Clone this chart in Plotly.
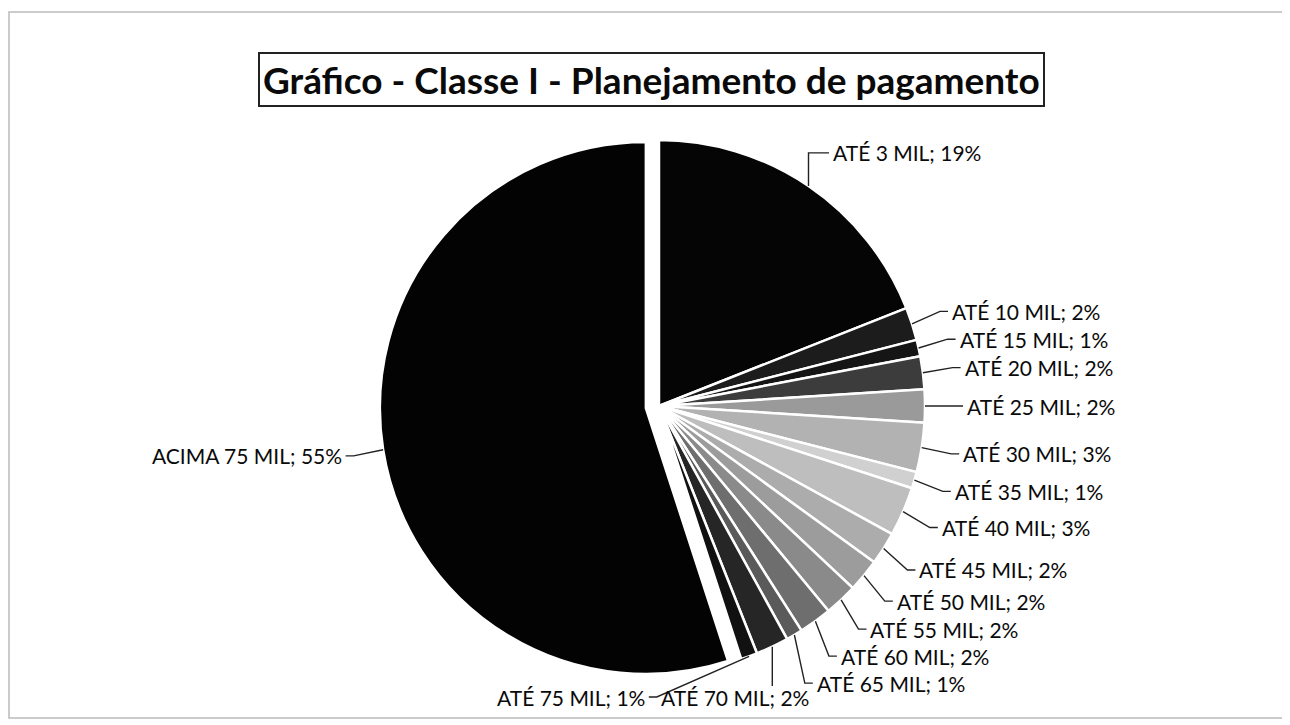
import math
import plotly.graph_objects as go

# Dados do gráfico
categorias = ["ATÉ 3 MIL", "ATÉ 10 MIL", "ATÉ 15 MIL", "ATÉ 20 MIL", "ATÉ 25 MIL",
              "ATÉ 30 MIL", "ATÉ 35 MIL", "ATÉ 40 MIL", "ATÉ 45 MIL", "ATÉ 50 MIL",
              "ATÉ 55 MIL", "ATÉ 60 MIL", "ATÉ 65 MIL", "ATÉ 70 MIL", "ATÉ 75 MIL",
              "ACIMA 75 MIL"]
percentuais = [19, 2, 1, 2, 2, 3, 1, 3, 2, 2, 2, 2, 1, 2, 1, 55]
cores = ["#050505", "#1c1c1c", "#151515", "#3c3c3c", "#9a9a9a", "#b2b2b2",
         "#d0d0d0", "#bebebe", "#acacac", "#9c9c9c", "#8a8a8a", "#6e6e6e",
         "#5a5a5a", "#262626", "#111111", "#030303"]
destaque = [0] * 15 + [0.05]

W, H = 1290, 725
FONT = "Lato"
FS = 21

# geometria da pizza (pixels da figura; a página desloca ~8px)
cx, cy, R = 651, 398, 266
max_pull = max(destaque)
half = R * (1 + max_pull)
dom_y = [1 - (cy + half) / H, 1 - (cy - half) / H]
dom_x = [(cx - half - 20) / W, (cx + half + 20) / W]

fig = go.Figure()

fig.add_trace(go.Pie(
    labels=categorias,
    values=percentuais,
    sort=False,
    direction="clockwise",
    rotation=0,
    pull=destaque,
    marker=dict(colors=cores, line=dict(color="white", width=2.5)),
    textinfo="none",
    hoverinfo="label+percent",
    domain=dict(x=dom_x, y=dom_y),
    showlegend=False,
))


def largura(txt):
    return len(txt) * 0.51 * FS


# posição das bordas das fatias
total = sum(percentuais)
acum = 0
pos = []
for cat, v, p in zip(categorias, percentuais, destaque):
    ang = math.radians((acum + v / 2) / total * 360)
    acum += v
    ux, uy = math.sin(ang), -math.cos(ang)
    ox, oy = cx + ux * p * R, cy + uy * p * R
    ex, ey = ox + ux * R, oy + uy * R
    pos.append(dict(txt=f"{cat}; {v}%", ang=ang, ex=ex, ey=ey,
                    lx=ex + ux * 40, ly=ey + uy * 40))

# rótulos da direita: empurra para baixo; os que passam do limite vão para a linha de baixo
fundo = H - 36
ultimo = -1e9
ult_x = None
linha_baixo = []
for item in pos:
    if 0 < item["ang"] < math.pi:
        item["ly"] = max(item["ly"], ultimo + 27)
        if item["ly"] > fundo - 8 and item["ang"] > math.pi * 0.84:
            linha_baixo.append(item)
            continue
        ultimo = item["ly"]
        ult_x = item["lx"]
        item["anchor"] = "left"
    else:
        item["anchor"] = "right"

# linha de baixo, da direita para a esquerda, sem invadir o rótulo acima
borda = None
for item in linha_baixo:
    larg = largura(item["txt"])
    item["ly"] = fundo
    item["anchor"] = "right"
    if borda is None:
        item["lx"] = min(item["ex"] + larg / 2 + 10, ult_x - 4)
        item["vert"] = True
    else:
        item["lx"] = borda - 14
    borda = item["lx"] - larg

for item in pos:
    ex, ey, lx, ly = item["ex"], item["ey"], item["lx"], item["ly"]
    if item.get("vert"):
        path = f"M {ex:.1f},{ey:.1f} L {ex:.1f},{ly - 11:.1f}"
    elif item["ang"] < math.pi / 4:
        # chamada em cotovelo: sobe na vertical e segue na horizontal
        path = f"M {ex:.1f},{ey:.1f} L {ex:.1f},{ly:.1f} L {lx - 2:.1f},{ly:.1f}"
    else:
        stub = 10 if item["anchor"] == "left" else -10
        path = f"M {ex:.1f},{ey:.1f} L {lx - stub:.1f},{ly:.1f} L {lx - stub * 0.2:.1f},{ly:.1f}"
    fig.add_shape(type="path", xref="x", yref="y", path=path,
                  line=dict(color="#222222", width=1.4))
    fig.add_annotation(x=lx, y=ly, xref="x", yref="y", text=item["txt"], showarrow=False,
                       xanchor=item["anchor"], yanchor="middle",
                       font=dict(family=FONT, size=FS, color="#0a0a0a"))

# título com moldura
fig.add_annotation(x=643 / W, y=1 - 44 / H, xref="paper", yref="paper",
                   text="<b>Gráfico - Classe I - Planejamento de pagamento</b>",
                   showarrow=False, font=dict(family=FONT, size=37, color="#0a0a0a"),
                   bordercolor="#222222", borderwidth=2, borderpad=3, bgcolor="white")

# moldura externa
fig.add_shape(type="rect", xref="x", yref="y", x0=1, y0=4, x1=1275, y1=710,
              line=dict(color="#bbbbbb", width=1.5), layer="below")

fig.update_layout(
    width=W, height=H,
    margin=dict(l=0, r=0, t=0, b=0),
    paper_bgcolor="white", plot_bgcolor="white",
    xaxis=dict(range=[0, W], visible=False, fixedrange=True),
    yaxis=dict(range=[H, 0], visible=False, fixedrange=True),
)

fig.write_html("out.html")
